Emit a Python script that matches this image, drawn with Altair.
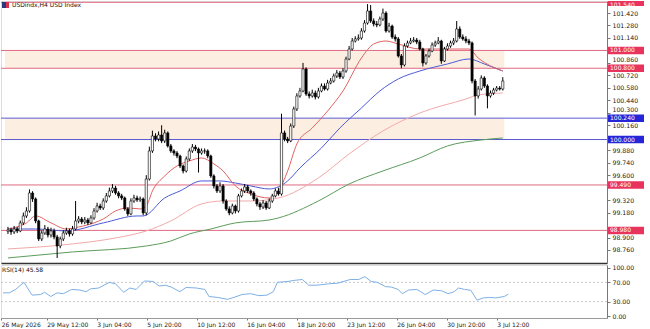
import altair as alt
import pandas as pd

# ---------------- data ----------------
first_open = 98.970
closes = [98.985, 98.963, 98.996, 98.974, 99.064, 99.142, 99.198, 99.400, 99.333, 99.086,
          98.884, 98.951, 98.996, 98.929, 98.974, 98.906, 98.805, 98.884, 98.951, 98.974,
          98.940, 98.996, 99.086, 99.108, 99.075, 99.097, 99.064, 99.120, 99.198, 99.254,
          99.232, 99.310, 99.367, 99.423, 99.456, 99.400, 99.367, 99.344, 99.221, 99.165,
          99.310, 99.344, 99.322, 99.333, 99.176, 99.557, 99.872, 100.040, 100.006, 100.051,
          99.984, 100.074, 99.928, 99.872, 99.849, 99.815, 99.703, 99.647, 99.782, 99.872,
          99.916, 99.894, 99.849, 99.872, 99.872, 99.815, 99.591, 99.479, 99.423, 99.479,
          99.310, 99.221, 99.176, 99.254, 99.198, 99.367, 99.423, 99.468, 99.423, 99.400,
          99.333, 99.277, 99.243, 99.288, 99.232, 99.310, 99.367, 99.423, 99.389, 100.074,
          100.006, 99.984, 100.152, 100.343, 100.489, 100.545, 100.792, 100.511, 100.489, 100.522,
          100.478, 100.545, 100.601, 100.567, 100.635, 100.657, 100.713, 100.747, 100.702, 100.769,
          100.904, 101.016, 101.106, 101.129, 101.140, 101.218, 101.308, 101.443, 101.331, 101.297,
          101.286, 101.353, 101.420, 101.218, 101.274, 101.151, 101.129, 100.938, 100.837, 101.050,
          101.084, 101.106, 101.117, 101.095, 101.016, 100.859, 100.938, 100.994, 101.061, 101.084,
          101.106, 100.882, 101.016, 101.050, 101.084, 101.106, 101.241, 101.151, 101.129, 101.106,
          101.084, 100.657, 100.489, 100.567, 100.691, 100.601, 100.489, 100.522, 100.556, 100.578,
          100.567, 100.657]
highs = [99.02, 99.01, 99.03, 99.02, 99.09, 99.18, 99.24, 99.44, 99.42, 99.35,
         99.10, 98.98, 99.04, 99.02, 99.01, 99.00, 98.93, 98.91, 98.98, 99.01,
         99.00, 99.03, 99.31, 99.14, 99.13, 99.13, 99.12, 99.15, 99.23, 99.29,
         99.28, 99.34, 99.40, 99.46, 99.50, 99.48, 99.42, 99.39, 99.36, 99.24,
         99.34, 99.38, 99.37, 99.36, 99.35, 99.60, 99.92, 100.10, 100.07, 100.09,
         100.16, 100.11, 100.09, 99.95, 99.89, 99.87, 99.83, 99.72, 99.81, 99.90,
         99.95, 99.94, 99.91, 99.90, 99.90, 99.89, 99.83, 99.61, 99.50, 99.52,
         99.50, 99.33, 99.25, 99.28, 99.27, 99.39, 99.45, 99.50, 99.49, 99.44,
         99.42, 99.35, 99.30, 99.32, 99.31, 99.34, 99.39, 99.45, 99.46, 100.29,
         100.10, 100.03, 100.18, 100.37, 100.52, 100.58, 100.86, 100.81, 100.54, 100.56,
         100.55, 100.58, 100.63, 100.63, 100.67, 100.69, 100.74, 100.78, 100.77, 100.80,
         100.93, 101.05, 101.14, 101.16, 101.18, 101.25, 101.34, 101.52, 101.51, 101.36,
         101.33, 101.38, 101.47, 101.44, 101.31, 101.29, 101.18, 101.15, 100.96, 101.08,
         101.11, 101.14, 101.15, 101.14, 101.12, 101.03, 100.96, 101.02, 101.09, 101.11,
         101.15, 101.12, 101.04, 101.08, 101.11, 101.14, 101.33, 101.27, 101.18, 101.16,
         101.13, 101.10, 100.68, 100.60, 100.72, 100.71, 100.62, 100.55, 100.58, 100.60,
         100.60, 100.70]
lows = [98.94, 98.93, 98.94, 98.95, 98.96, 99.04, 99.12, 99.18, 99.30, 99.06,
        98.86, 98.86, 98.93, 98.90, 98.90, 98.88, 98.67, 98.78, 98.86, 98.93,
        98.91, 98.92, 98.98, 99.06, 99.05, 99.05, 99.04, 99.05, 99.10, 99.18,
        99.21, 99.21, 99.29, 99.35, 99.40, 99.38, 99.34, 99.32, 99.20, 99.14,
        99.15, 99.29, 99.30, 99.30, 99.15, 99.15, 99.54, 99.85, 99.98, 99.98,
        99.96, 99.96, 99.91, 99.85, 99.82, 99.79, 99.68, 99.62, 99.63, 99.76,
        99.85, 99.87, 99.63, 99.83, 99.84, 99.79, 99.57, 99.45, 99.40, 99.40,
        99.28, 99.20, 99.15, 99.16, 99.17, 99.18, 99.35, 99.40, 99.40, 99.37,
        99.31, 99.25, 99.21, 99.22, 99.21, 99.22, 99.29, 99.35, 99.37, 99.37,
        99.98, 99.96, 99.97, 100.13, 100.32, 100.47, 100.53, 100.49, 100.46, 100.47,
        100.45, 100.46, 100.53, 100.55, 100.55, 100.62, 100.64, 100.69, 100.68, 100.68,
        100.75, 100.89, 101.00, 101.09, 101.11, 101.12, 101.20, 101.29, 101.31, 101.27,
        101.26, 101.27, 101.33, 101.20, 101.20, 101.13, 101.10, 100.92, 100.80, 100.82,
        101.03, 101.07, 101.09, 101.07, 101.00, 100.82, 100.84, 100.92, 100.98, 101.04,
        101.07, 100.85, 100.87, 101.00, 101.03, 101.06, 101.09, 101.13, 101.11, 101.08,
        101.06, 100.63, 100.27, 100.46, 100.55, 100.58, 100.35, 100.47, 100.50, 100.54,
        100.55, 100.55]

# moving averages (sampled along the lines)
ma_fast_idx = [0, 6, 9, 14, 19, 23, 28, 31, 35, 39, 43, 45, 47, 51, 55, 59, 63, 67, 70, 74,
               79, 85, 88, 91, 94, 99, 104, 109, 115, 119, 123, 127, 134, 143, 150, 153, 157, 161]
ma_fast_val = [98.996, 99.064, 99.142, 99.064, 98.996, 99.019, 99.064, 99.108, 99.198, 99.232,
               99.221, 99.254, 99.423, 99.591, 99.703, 99.759, 99.793, 99.726, 99.647, 99.479,
               99.389, 99.344, 99.423, 99.647, 99.950, 100.130, 100.320, 100.545, 100.915, 101.072,
               101.106, 101.072, 101.016, 101.016, 101.016, 100.915, 100.826, 100.769]
ma_mid_idx = [0, 9, 19, 31, 42, 44, 51, 56, 63, 69, 74, 79, 85, 91, 95, 102, 108, 115, 121, 127,
              134, 143, 150, 155, 161]
ma_mid_val = [98.996, 98.996, 98.974, 99.064, 99.142, 99.142, 99.344, 99.423, 99.535, 99.535,
              99.512, 99.479, 99.445, 99.535, 99.681, 99.905, 100.130, 100.354, 100.545, 100.680,
              100.769, 100.848, 100.904, 100.848, 100.769]
ma_slow_idx = [0, 21, 35, 45, 53, 63, 70, 79, 88, 101, 111, 122, 134, 149, 153, 161]
ma_slow_val = [98.772, 98.828, 98.895, 98.974, 99.086, 99.277, 99.310, 99.310, 99.344, 99.569,
               99.838, 100.096, 100.298, 100.455, 100.500, 100.522]
ma_long_idx = [0, 21, 45, 53, 59, 66, 74, 85, 88, 101, 111, 122, 134, 143, 154, 161]
ma_long_val = [98.671, 98.738, 98.805, 98.861, 98.940, 98.996, 99.064, 99.097, 99.120, 99.310,
               99.501, 99.647, 99.793, 99.928, 99.995, 100.017]

# RSI(14)
rsi_idx = [0, 2, 4, 6.7, 9.3, 12, 13.3, 15.3, 17.3, 19.3, 22, 24.6, 26.6, 28, 30.6, 34, 36, 38.6,
           40.6, 42.6, 45.3, 48, 50, 52, 53.9, 56.6, 58.6, 61.9, 64.6, 65.9, 68.6, 71.9, 73.9,
           76.5, 79.2, 81.9, 84.5, 86.5, 87.8, 91.2, 93.2, 95.8, 97.8, 100.5, 104.5, 107.1, 111.1,
           113.8, 115.8, 117.8, 119.8, 122.4, 124.4, 126.4, 127.8, 129.8, 132.4, 133.7, 135.1,
           137.7, 140.4, 142.4, 144.4, 145.7, 147.7, 149.7, 151.7, 153.7, 155.7, 157.7, 160.4, 161.7]
rsi_val = [48.2, 48.2, 55.3, 70, 43.5, 44.7, 49.4, 40.6, 48.2, 46.5, 55.3, 54.1, 50.6, 56.5, 58.2,
           70, 67.1, 49.4, 58.2, 55.3, 72.9, 71.8, 62.4, 64.1, 60, 50.6, 59.4, 58.2, 55.3, 40.6,
           38.8, 34.7, 38.8, 44.7, 46.5, 42.4, 43.5, 50.6, 70, 71.8, 74.1, 75.9, 64.1, 64.1, 67.1,
           68.2, 75.9, 75.9, 81.8, 71.8, 70, 61.2, 60, 55.3, 46.5, 54.1, 55.3, 50.6, 44.7, 54.1,
           52.4, 46.5, 50.6, 58.2, 55.3, 53.5, 33, 37.7, 38.8, 37.7, 40.6, 45.6]

# horizontal levels and zones
level_prices = [101.540, 101.000, 100.800, 100.240, 100.000, 99.490, 98.980]
level_kinds = ["red", "red", "red", "blue", "blue", "red", "red"]
zone_low = [100.800, 100.000]
zone_high = [101.000, 100.240]
zone_end_bar = 161.5

# price grid labels (those hidden under the level boxes are left out)
price_ticks = [98.76, 98.90, 99.18, 99.32, 99.60, 99.74, 99.88,
               100.16, 100.30, 100.44, 100.58, 100.72, 100.86, 101.14, 101.28, 101.42]
rsi_ticks = [0, 30, 70, 100]
rsi_levels = [30, 70]
time_tick_idx = [-0.6, 14, 30, 46, 62, 78, 94, 110, 126, 142, 158]
time_tick_lab = ["26 May 2026", "29 May 12:00", "3 Jun 04:00", "5 Jun 20:00", "10 Jun 12:00",
                 "16 Jun 04:00", "18 Jun 20:00", "23 Jun 12:00", "26 Jun 04:00", "30 Jun 20:00",
                 "3 Jul 12:00"]

title_text = "USDindx,H4  USD Index"
rsi_text = "RSI(14) 45.58"

# ---------------- tables ----------------
opens = [first_open] + closes[:-1]
candles = pd.DataFrame({"i": list(range(len(closes))), "open": opens, "high": highs,
                        "low": lows, "close": closes})
ma_df = pd.concat([
    pd.DataFrame({"i": ma_long_idx, "v": ma_long_val, "ma": "MA200"}),
    pd.DataFrame({"i": ma_slow_idx, "v": ma_slow_val, "ma": "MA100"}),
    pd.DataFrame({"i": ma_mid_idx, "v": ma_mid_val, "ma": "MA50"}),
    pd.DataFrame({"i": ma_fast_idx, "v": ma_fast_val, "ma": "MA20"}),
])
levels = pd.DataFrame({"price": level_prices, "kind": level_kinds})
zones = pd.DataFrame({"lo": zone_low, "hi": zone_high, "x0": [-1.0] * 2, "x1": [zone_end_bar] * 2})
rsi_df = pd.DataFrame({"i": rsi_idx, "r": rsi_val})

# ---------------- scales / axes ----------------
FONT = "DejaVu Sans"
PMIN, PMAX = 98.614, 101.555
xs = alt.Scale(domain=[-0.64, 193.28], nice=False, zero=False)
ys = alt.Scale(domain=[PMIN, PMAX], nice=False, zero=False)
# labels sitting just above a level box are nudged up so they stay readable
yaxis = alt.Axis(orient="right", values=price_ticks, format=".3f", title=None, grid=False,
                 labelFontSize=6.2, labelColor="#222", labelFont=FONT, tickSize=3,
                 tickColor="#777", domainColor="#777", labelPadding=2,
                 labelOffset={"condition": {"test": "abs(datum.value - 100.86) < 0.001 || abs(datum.value - 100.30) < 0.001",
                                            "value": -3}, "value": 0})
xaxis_main = alt.Axis(labels=False, ticks=False, grid=False, title=None, domainColor="#333",
                      domainWidth=1.5)

label_expr = "datum.value < 0 ? '" + time_tick_lab[0] + "'"
for v, lab in zip(time_tick_idx[1:], time_tick_lab[1:]):
    label_expr += " : datum.value == " + str(v) + " ? '" + lab + "'"
label_expr += " : ''"
xaxis_rsi = alt.Axis(values=time_tick_idx, labelExpr=label_expr, title=None, grid=False,
                     labelAlign="left", labelFontSize=6, labelFont=FONT, labelColor="#222",
                     tickSize=2, tickColor="#777", domainColor="#999", labelFlush=False,
                     labelPadding=1)

W, H_MAIN, H_RSI = 606, 262, 53

zone_layer = alt.Chart(zones).mark_rect(color="#fcefe2", clip=True).encode(
    x=alt.X("x0:Q", scale=xs, axis=xaxis_main), x2="x1:Q",
    y=alt.Y("lo:Q", scale=ys, axis=yaxis), y2="hi:Q")

level_layer = alt.Chart(levels).mark_rule(strokeWidth=1).encode(
    y=alt.Y("price:Q", scale=ys, axis=yaxis),
    color=alt.condition("datum.kind == 'red'", alt.value("#e06a82"), alt.value("#5a5ad0")))

ma_layer = alt.Chart(ma_df).mark_line(strokeWidth=1, interpolate="monotone").encode(
    x=alt.X("i:Q", scale=xs, axis=xaxis_main),
    y=alt.Y("v:Q", scale=ys, axis=yaxis),
    color=alt.Color("ma:N", legend=None,
                    scale=alt.Scale(domain=["MA200", "MA100", "MA50", "MA20"],
                                    range=["#5c9c5c", "#f2aaaa", "#4c5ad6", "#e06262"])),
    detail="ma:N")

wick_layer = alt.Chart(candles).mark_rule(color="black", strokeWidth=1).encode(
    x=alt.X("i:Q", scale=xs, axis=xaxis_main),
    y=alt.Y("low:Q", scale=ys, axis=yaxis), y2="high:Q")

body_layer = alt.Chart(candles).mark_bar(size=2.2, stroke="black", strokeWidth=0.6).encode(
    x=alt.X("i:Q", scale=xs, axis=xaxis_main),
    y=alt.Y("open:Q", scale=ys, axis=yaxis), y2="close:Q",
    fill=alt.condition("datum.close >= datum.open", alt.value("white"), alt.value("black")))

box_layer = alt.Chart(levels).transform_calculate(
    top="min(datum.price + 0.042, %f)" % PMAX, bot="datum.price - 0.042"
).mark_rect().encode(
    x=alt.value(W + 1), x2=alt.value(W + 37),
    y=alt.Y("top:Q", scale=ys, axis=yaxis), y2="bot:Q",
    fill=alt.condition("datum.kind == 'red'", alt.value("#e8345c"), alt.value("#2626d8")))

box_text = alt.Chart(levels).transform_calculate(
    ty="min(datum.price, %f)" % (PMAX - 0.04), lab="format(datum.price, '.3f')"
).mark_text(align="left", baseline="middle", fontSize=6, font=FONT, color="white").encode(
    x=alt.value(W + 3), y=alt.Y("ty:Q", scale=ys, axis=yaxis), text="lab:N")

title_df = pd.DataFrame({"t": [title_text]})
icon = alt.Chart(title_df).mark_rect(color="#2b3a7a").encode(
    x=alt.value(1), x2=alt.value(8), y=alt.value(1), y2=alt.value(7))
icon2 = alt.Chart(title_df).mark_rect(color="#d8324e").encode(
    x=alt.value(5), x2=alt.value(8), y=alt.value(1), y2=alt.value(7))
title_layer = alt.Chart(title_df).mark_text(align="left", baseline="middle", fontSize=6,
                                            font=FONT, color="#111").encode(
    x=alt.value(11), y=alt.value(4), text="t:N")

main = alt.layer(zone_layer, level_layer, ma_layer, wick_layer, body_layer, box_layer,
                 box_text, icon, icon2, title_layer).properties(width=W, height=H_MAIN)

rys = alt.Scale(domain=[-4, 106], nice=False, zero=False)
ryaxis = alt.Axis(orient="right", values=rsi_ticks, format=".2f", title=None, grid=False,
                  labelFontSize=6.2, labelFont=FONT, labelColor="#222", tickSize=3,
                  tickColor="#777", domainColor="#777", labelPadding=2)

rsi_lvl = alt.Chart(pd.DataFrame({"r": rsi_levels})).mark_rule(
    color="#c8c8c8", strokeDash=[2, 2], strokeWidth=1).encode(
    y=alt.Y("r:Q", scale=rys, axis=ryaxis))
rsi_line = alt.Chart(rsi_df).mark_line(color="#7eb0e6", strokeWidth=1).encode(
    x=alt.X("i:Q", scale=xs, axis=xaxis_rsi),
    y=alt.Y("r:Q", scale=rys, axis=ryaxis))
rsi_title = alt.Chart(pd.DataFrame({"t": [rsi_text]})).mark_text(
    align="left", baseline="middle", fontSize=6, font=FONT, color="#111").encode(
    x=alt.value(1), y=alt.value(5), text="t:N")

rsi = alt.layer(rsi_lvl, rsi_line, rsi_title).properties(width=W, height=H_RSI)

chart = alt.vconcat(main, rsi, spacing=0).configure_view(stroke=None).configure(
    padding=0, background="white")

chart.save("out.html", embed_options={"renderer": "svg", "actions": False})
